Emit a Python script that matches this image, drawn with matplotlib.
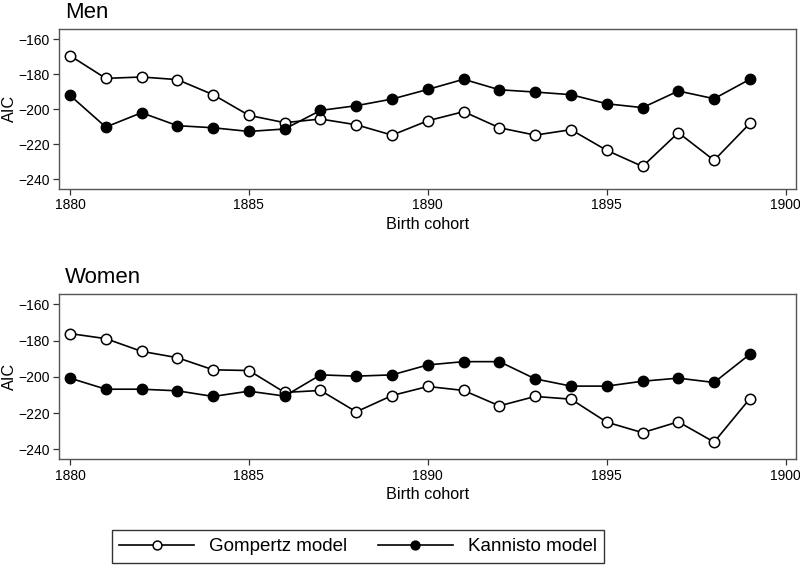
import matplotlib
matplotlib.use('Agg')
import matplotlib.pyplot as plt

plt.rcParams['font.family'] = ['Liberation Sans', 'DejaVu Sans']

years = list(range(1880, 1900))

men_gompertz = [-169.5, -182.5, -181.7, -183.2, -191.8, -203.6, -207.8, -205.7, -209.0, -214.9,
                -206.7, -201.5, -210.7, -214.9, -211.8, -223.6, -232.8, -213.5, -229.3, -208.2]
men_kannisto = [-192.2, -210.3, -202.1, -209.5, -210.7, -212.8, -211.4, -200.8, -198.1, -194.3,
                -188.8, -183.0, -189.0, -190.3, -191.8, -197.0, -199.2, -189.7, -194.1, -183.0]

women_gompertz = [-176.1, -178.9, -185.9, -189.4, -196.1, -196.5, -208.6, -207.5, -219.3, -210.3,
                  -205.3, -207.5, -216.0, -210.8, -212.3, -225.0, -230.8, -224.8, -236.0, -212.0]
women_kannisto = [-200.7, -206.8, -206.8, -207.7, -210.8, -207.9, -210.6, -198.9, -199.6, -198.9,
                  -193.4, -191.6, -191.6, -201.1, -205.1, -205.1, -202.4, -200.7, -203.1, -187.5]

x_ticks = [1880, 1885, 1890, 1895, 1900]
y_ticks = [-160, -180, -200, -220, -240]

fig = plt.figure(figsize=(8, 5.69), dpi=100)
ax1 = fig.add_axes([0.0741, 0.6684, 0.9205, 0.2812])
ax2 = fig.add_axes([0.0741, 0.1928, 0.9205, 0.2910])

panels = [(ax1, 'Men', men_gompertz, men_kannisto),
          (ax2, 'Women', women_gompertz, women_kannisto)]

for ax, title, gomp, kann in panels:
    lg, = ax.plot(years, gomp, '-o', color='black', markerfacecolor='white',
                  markeredgecolor='black', markersize=7.5, markeredgewidth=1.1,
                  linewidth=1.2, label='Gompertz model', zorder=3)
    lk, = ax.plot(years, kann, '-o', color='black', markerfacecolor='black',
                  markeredgecolor='black', markersize=7.5, linewidth=1.2,
                  label='Kannisto model', zorder=3)
    ax.set_xlim(1879.7, 1900.28)
    ax.set_ylim(-245.5, -154.1)
    ax.set_xticks(x_ticks)
    ax.set_yticks(y_ticks)
    ax.tick_params(axis='both', labelsize=10, length=4, width=0.9, color='#333333', pad=3)
    ax.set_xlabel('Birth cohort', fontsize=11.7, labelpad=3)
    ax.set_ylabel('AIC', fontsize=11.7, labelpad=1)
    for s in ax.spines.values():
        s.set_color('#555555')
        s.set_linewidth(1.0)
    ax.text(0.008, 1.035, title, transform=ax.transAxes, fontsize=16,
            ha='left', va='bottom')

leg = fig.legend(handles=[lg, lk], loc='center', bbox_to_anchor=(0.4475, 0.0395),
                 ncol=2, fontsize=13.5, frameon=True, fancybox=False,
                 handlelength=4.0, columnspacing=1.6, borderpad=0.4,
                 handletextpad=0.8, edgecolor='black', borderaxespad=0,
                 markerscale=0.85)
leg.get_frame().set_linewidth(1.0)

fig.savefig('out.png', dpi=100)
